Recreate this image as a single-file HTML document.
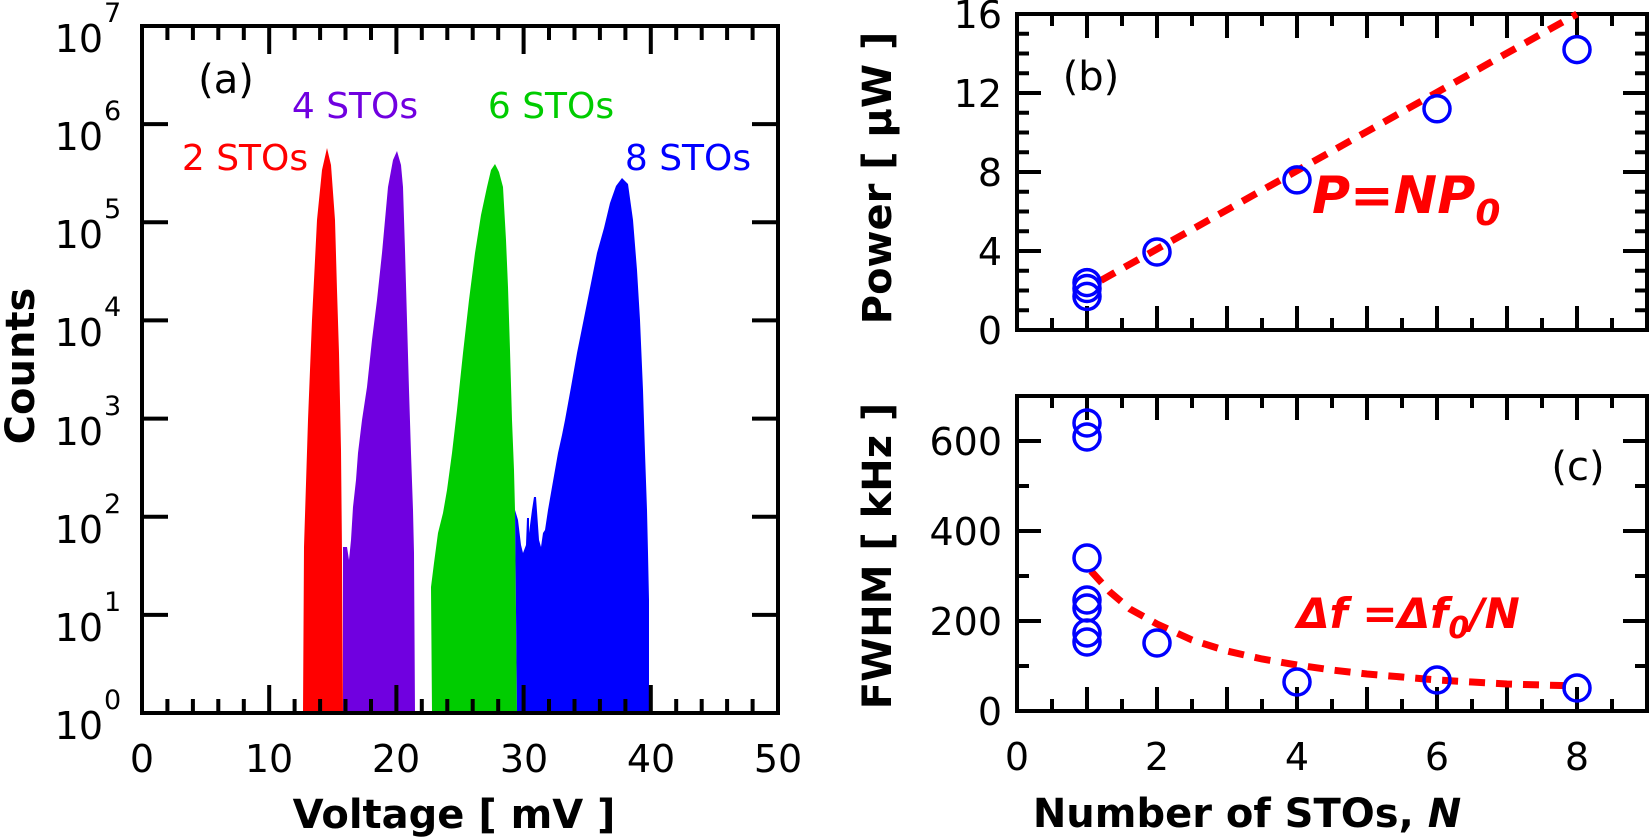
<!DOCTYPE html>
<html><head><meta charset="utf-8"><style>
html,body{margin:0;padding:0;background:#fff;}
svg{display:block;}
text{font-family:"DejaVu Sans","Liberation Sans",sans-serif;}
</style></head><body>
<svg width="1650" height="838" viewBox="0 0 1650 838" xmlns="http://www.w3.org/2000/svg">
<polygon fill="#ff0000" points="303,713 304,547 308,420 312,320 317,220 322,170 327,148 331,165 335,220 337,290 339,353 341,450 342,553 343,713"/>
<polygon fill="#7000e0" points="343,713 343,547 347,547 349,560 351,540 353,507 356,480 358,453 362,420 367,387 372,340 377,300 382,253 388,187 393,160 397,151 401,165 403,187 405,250 407,320 409,390 411,453 413,510 414,553 415,713"/>
<polygon fill="#00cc00" points="432,713 431,587 434,563 438,533 443,513 447,490 452,453 457,410 463,353 469,300 475,253 481,215 487,187 491,170 495,164 499,172 503,187 506,240 508,287 510,350 512,420 514,470 515,510 517,713"/>
<polygon fill="#0000ff" points="517,713 515,510 518,520 521,545 523,553 526,545 527,518 529,518 529,533 532,510 534,497 536,497 539,540 541,547 543,533 545,530 548,510 552,487 555,470 558,453 562,435 565,420 571,387 577,353 587,303 597,253 604,228 610,203 616,186 622,178 628,184 633,220 637,270 640,320 643,390 645,453 647,510 648,553 649,600 649,713"/>
<g stroke="#000" stroke-width="4" fill="none">
<rect x="142" y="26" width="636" height="687"/>
</g>
<g stroke="#000" stroke-width="4">
<path d="M167.4,713v-14 M192.9,713v-14 M218.3,713v-14 M243.8,713v-14 M269.2,713v-28 M294.6,713v-14 M320.1,713v-14 M345.5,713v-14 M371,713v-14 M396.4,713v-28 M421.8,713v-14 M447.3,713v-14 M472.7,713v-14 M498.2,713v-14 M523.6,713v-28 M549,713v-14 M574.5,713v-14 M599.9,713v-14 M625.4,713v-14 M650.8,713v-28 M676.2,713v-14 M701.7,713v-14 M727.1,713v-14 M752.6,713v-14"/>
<path d="M167.4,26v14 M192.9,26v14 M218.3,26v14 M243.8,26v14 M269.2,26v28 M294.6,26v14 M320.1,26v14 M345.5,26v14 M371,26v14 M396.4,26v28 M421.8,26v14 M447.3,26v14 M472.7,26v14 M498.2,26v14 M523.6,26v28 M549,26v14 M574.5,26v14 M599.9,26v14 M625.4,26v14 M650.8,26v28 M676.2,26v14 M701.7,26v14 M727.1,26v14 M752.6,26v14"/>
<path d="M142,124.1h26 M142,222.3h26 M142,320.4h26 M142,418.6h26 M142,516.7h26 M142,614.9h26"/>
<path d="M778,124.1h-26 M778,222.3h-26 M778,320.4h-26 M778,418.6h-26 M778,516.7h-26 M778,614.9h-26"/>
</g>
<g font-size="38" text-anchor="middle" fill="#000">
<text x="142" y="772">0</text><text x="269" y="772">10</text><text x="396" y="772">20</text><text x="524" y="772">30</text><text x="651" y="772">40</text><text x="778" y="772">50</text>
</g>
<g font-size="38" fill="#000" text-anchor="end">
<text x="103" y="52">10</text><text x="103" y="150">10</text><text x="103" y="248">10</text><text x="103" y="346">10</text><text x="103" y="445">10</text><text x="103" y="543">10</text><text x="103" y="641">10</text><text x="103" y="739">10</text>
</g>
<g font-size="27" fill="#000">
<text x="104" y="22">7</text><text x="104" y="120">6</text><text x="104" y="218">5</text><text x="104" y="316">4</text><text x="104" y="415">3</text><text x="104" y="513">2</text><text x="104" y="611">1</text><text x="104" y="709">0</text>
</g>
<text x="226" y="93" font-size="40" text-anchor="middle">(a)</text>
<text x="245" y="170" font-size="36" fill="#ff0000" text-anchor="middle">2 STOs</text>
<text x="355" y="118" font-size="36" fill="#7000e0" text-anchor="middle">4 STOs</text>
<text x="551" y="118" font-size="36" fill="#00cc00" text-anchor="middle">6 STOs</text>
<text x="688" y="170" font-size="36" fill="#0000ff" text-anchor="middle">8 STOs</text>
<text x="454" y="828" font-size="40" font-weight="bold" text-anchor="middle">Voltage [ mV ]</text>
<text transform="translate(34,366) rotate(-90)" font-size="40" font-weight="bold" text-anchor="middle">Counts</text>

<g stroke="#000" stroke-width="4" fill="none">
<rect x="1017" y="14" width="630" height="316"/>
<rect x="1017" y="396" width="630" height="315"/>
</g>
<g stroke="#000" stroke-width="4">
<path d="M1052,330v-12 M1087,330v-24 M1122,330v-12 M1157,330v-24 M1192,330v-12 M1227,330v-24 M1262,330v-12 M1297,330v-24 M1332,330v-12 M1367,330v-24 M1402,330v-12 M1437,330v-24 M1472,330v-12 M1507,330v-24 M1542,330v-12 M1577,330v-24 M1612,330v-12"/>
<path d="M1052,14v12 M1087,14v24 M1122,14v12 M1157,14v24 M1192,14v12 M1227,14v24 M1262,14v12 M1297,14v24 M1332,14v12 M1367,14v24 M1402,14v12 M1437,14v24 M1472,14v12 M1507,14v24 M1542,14v12 M1577,14v24 M1612,14v12"/>
<path d="M1052,711v-12 M1087,711v-24 M1122,711v-12 M1157,711v-24 M1192,711v-12 M1227,711v-24 M1262,711v-12 M1297,711v-24 M1332,711v-12 M1367,711v-24 M1402,711v-12 M1437,711v-24 M1472,711v-12 M1507,711v-24 M1542,711v-12 M1577,711v-24 M1612,711v-12"/>
<path d="M1052,396v12 M1087,396v24 M1122,396v12 M1157,396v24 M1192,396v12 M1227,396v24 M1262,396v12 M1297,396v24 M1332,396v12 M1367,396v24 M1402,396v12 M1437,396v24 M1472,396v12 M1507,396v24 M1542,396v12 M1577,396v24 M1612,396v12"/>
<path d="M1017,310.25h12 M1017,290.5h12 M1017,270.75h12 M1017,251h24 M1017,231.25h12 M1017,211.5h12 M1017,191.75h12 M1017,172h24 M1017,152.25h12 M1017,132.5h12 M1017,112.75h12 M1017,93h24 M1017,73.25h12 M1017,53.5h12 M1017,33.75h12"/>
<path d="M1647,310.25h-12 M1647,290.5h-12 M1647,270.75h-12 M1647,251h-24 M1647,231.25h-12 M1647,211.5h-12 M1647,191.75h-12 M1647,172h-24 M1647,152.25h-12 M1647,132.5h-12 M1647,112.75h-12 M1647,93h-24 M1647,73.25h-12 M1647,53.5h-12 M1647,33.75h-12"/>
<path d="M1017,666h12 M1017,621h24 M1017,576h12 M1017,531h24 M1017,486h12 M1017,441h24"/>
<path d="M1647,666h-12 M1647,621h-24 M1647,576h-12 M1647,531h-24 M1647,486h-12 M1647,441h-24"/>
</g>
<g font-size="38" text-anchor="end" fill="#000">
<text x="1002" y="344">0</text><text x="1002" y="265">4</text><text x="1002" y="186">8</text><text x="1002" y="107">12</text><text x="1002" y="28">16</text>
<text x="1002" y="725">0</text><text x="1002" y="635">200</text><text x="1002" y="545">400</text><text x="1002" y="455">600</text>
</g>
<g font-size="38" text-anchor="middle" fill="#000">
<text x="1017" y="770">0</text><text x="1157" y="770">2</text><text x="1297" y="770">4</text><text x="1437" y="770">6</text><text x="1577" y="770">8</text>
</g>
<path d="M1101,280.4 L1577,14" stroke="#ff0000" stroke-width="7" stroke-dasharray="16,11" fill="none"/>
<path d="M1091,571 L1110,592 L1130,609 L1157,624 L1192,640 L1227,651 L1262,659 L1297,665 L1332,670 L1367,674 L1402,677 L1437,680 L1472,682 L1507,684 L1542,685 L1577,686" stroke="#ff0000" stroke-width="7" stroke-dasharray="16,11" fill="none"/>
<g fill="none" stroke="#0000ff" stroke-width="3.5">
<circle cx="1087" cy="282.6" r="13"/><circle cx="1087" cy="288.5" r="13"/><circle cx="1087" cy="296.4" r="13"/>
<circle cx="1157" cy="252" r="13"/><circle cx="1297" cy="179.9" r="13"/><circle cx="1437" cy="108.8" r="13"/><circle cx="1577" cy="49.6" r="13"/>
<circle cx="1087" cy="423" r="13"/><circle cx="1087" cy="437" r="13"/><circle cx="1087" cy="558" r="13"/><circle cx="1087" cy="600" r="13"/><circle cx="1087" cy="608" r="13"/><circle cx="1087" cy="633" r="13"/><circle cx="1087" cy="642" r="13"/>
<circle cx="1157" cy="643" r="13"/><circle cx="1297" cy="682" r="13"/><circle cx="1437" cy="680" r="13"/><circle cx="1577" cy="688" r="13"/>
</g>
<text x="1091" y="90" font-size="40" text-anchor="middle">(b)</text>
<text x="1578" y="480" font-size="40" text-anchor="middle">(c)</text>
<text x="1312" y="213" font-size="52" font-weight="bold" font-style="italic" fill="#ff0000">P=NP<tspan font-size="36" dy="12">0</tspan></text>
<text x="1297" y="628" font-size="42" font-weight="bold" font-style="italic" fill="#ff0000">Δf =Δf<tspan font-size="30" dy="10">0</tspan><tspan dy="-10">/N</tspan></text>
<text x="1247" y="827" font-size="40" font-weight="bold" text-anchor="middle">Number of STOs, <tspan font-style="italic">N</tspan></text>
<text transform="translate(891,178) rotate(-90)" font-size="40" font-weight="bold" text-anchor="middle">Power [ μW ]</text>
<text transform="translate(891,556) rotate(-90)" font-size="40" font-weight="bold" text-anchor="middle">FWHM [ kHz ]</text>
</svg>
</body></html>
